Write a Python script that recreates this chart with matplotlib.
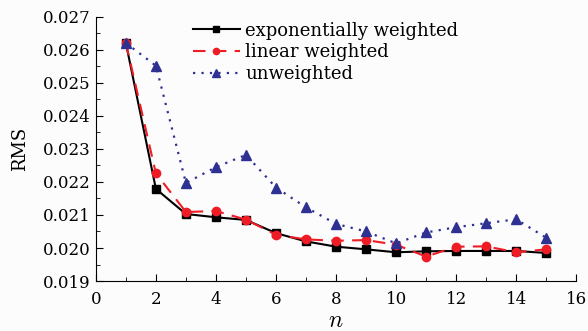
import matplotlib.pyplot as plt
from matplotlib.ticker import MultipleLocator

n = list(range(1, 16))
exp_weighted = [0.02621, 0.02179, 0.02103, 0.02093, 0.02085, 0.02045, 0.02020, 0.02004,
                0.01996, 0.01987, 0.01990, 0.01991, 0.01991, 0.01991, 0.01985]
lin_weighted = [0.02621, 0.02226, 0.02109, 0.02112, 0.02086, 0.02040, 0.02026, 0.02022,
                0.02024, 0.02010, 0.01974, 0.02004, 0.02005, 0.01987, 0.01996]
unweighted = [0.02621, 0.02552, 0.02197, 0.02245, 0.02282, 0.02183, 0.02123, 0.02073,
              0.02050, 0.02014, 0.02047, 0.02063, 0.02075, 0.02087, 0.02031]

plt.rcParams['font.family'] = ['DejaVu Serif']
plt.rcParams['mathtext.fontset'] = 'cm'

fig = plt.figure(figsize=(5.88, 3.31), dpi=100)
fig.patch.set_facecolor('#fcfcfc')
ax = fig.add_axes([0.163, 0.151, 0.817, 0.798])
ax.set_facecolor('#fcfcfc')

ax.plot(n, exp_weighted, '-', color='black', lw=1.5, marker='s', ms=5.5,
        label='exponentially weighted')
ax.plot(n, lin_weighted, '--', color='#ee1c25', lw=1.5, marker='o', ms=6,
        dashes=(6, 4), label='linear weighted')
ax.plot(n, unweighted, ':', color='#2e3192', lw=1.6, marker='^', ms=7,
        dashes=(1, 2.8), label='unweighted')

ax.set_xlim(0, 16)
ax.set_ylim(0.019, 0.027)
ax.xaxis.set_major_locator(MultipleLocator(2))
ax.xaxis.set_minor_locator(MultipleLocator(1))
ax.yaxis.set_major_locator(MultipleLocator(0.001))
ax.yaxis.set_minor_locator(MultipleLocator(0.0005))
ax.yaxis.set_major_formatter(plt.FormatStrFormatter('%.3f'))
ax.tick_params(which='both', direction='in', labelsize=12)
ax.tick_params(axis='x', pad=7)
ax.tick_params(which='major', length=5)
ax.tick_params(which='minor', length=3)
for s in ['top', 'right']:
    ax.spines[s].set_visible(False)

ax.set_xlabel('$n$', fontsize=17, labelpad=1)
ax.set_ylabel('RMS', fontsize=13, labelpad=10)

ax.legend(loc='upper left', bbox_to_anchor=(0.202, 0.982), frameon=False,
          fontsize=13, handlelength=2.6, handletextpad=0.3, labelspacing=0.2,
          borderaxespad=0, borderpad=0, markerscale=0.75)

fig.savefig('out.png', dpi=100, facecolor=fig.get_facecolor())
